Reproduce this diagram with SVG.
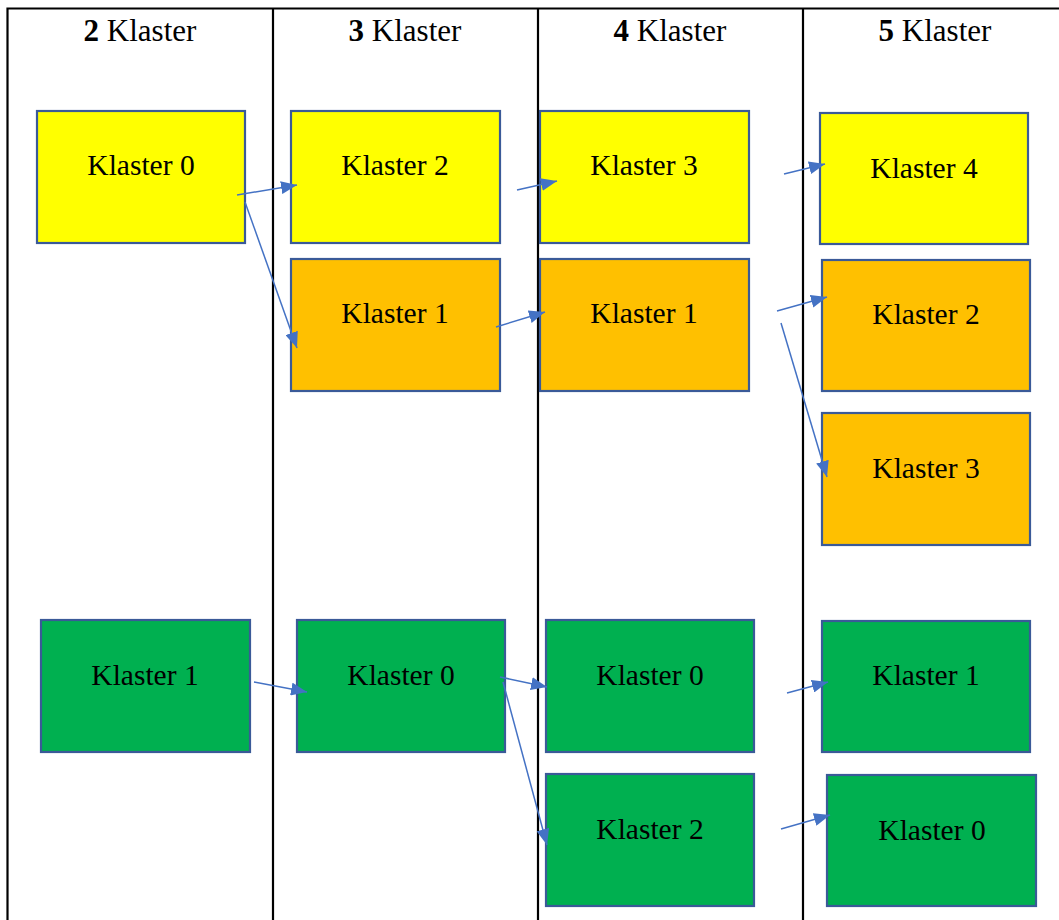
<svg xmlns="http://www.w3.org/2000/svg" width="1059" height="920" viewBox="0 0 1059 920">
<style>
.grid{stroke:#000;stroke-width:2.2;fill:none}
text{font-family:'Liberation Serif','Times New Roman',serif;fill:#000;text-anchor:middle}
.hd{font-size:31px}
.box{stroke:#3A5A98;stroke-width:2.2}
.y{fill:#FFFF00}.o{fill:#FFC000}.g{fill:#00B050}
.lb{font-size:29.5px}
.ar{stroke:#4472C4;stroke-width:1.5;fill:none;marker-end:url(#ah)}
</style>
<defs>
<marker id="ah" viewBox="0 0 16 13" refX="16" refY="6.5" markerWidth="16" markerHeight="13" markerUnits="userSpaceOnUse" orient="auto">
<path d="M0,0 L16,6.5 L0,13 Z" fill="#4472C4"/>
</marker>
</defs>
<rect width="1059" height="920" fill="#fff"/>
<g id="table">
<path class="grid" d="M7.5,920 V8.5 H1059 M273,8.5 V920 M538,8.5 V920 M803,8.5 V920"/>
<text class="hd" x="140" y="41"><tspan font-weight="bold">2</tspan> Klaster</text>
<text class="hd" x="405" y="41"><tspan font-weight="bold">3</tspan> Klaster</text>
<text class="hd" x="670" y="41"><tspan font-weight="bold">4</tspan> Klaster</text>
<text class="hd" x="935" y="41"><tspan font-weight="bold">5</tspan> Klaster</text>
</g>
<g id="c2-k0"><rect class="box y" x="37" y="111" width="208" height="132"/><text class="lb" x="141" y="175">Klaster 0</text></g>
<g id="c2-k1"><rect class="box g" x="41" y="620" width="209" height="132"/><text class="lb" x="145" y="685">Klaster 1</text></g>
<g id="c3-k2"><rect class="box y" x="291" y="111" width="209" height="132"/><text class="lb" x="395" y="175">Klaster 2</text></g>
<g id="c3-k1"><rect class="box o" x="291" y="259" width="209" height="132"/><text class="lb" x="395" y="323">Klaster 1</text></g>
<g id="c3-k0"><rect class="box g" x="297" y="620" width="208" height="132"/><text class="lb" x="401" y="685">Klaster 0</text></g>
<g id="c4-k3"><rect class="box y" x="540" y="111" width="209" height="132"/><text class="lb" x="644" y="175">Klaster 3</text></g>
<g id="c4-k1"><rect class="box o" x="540" y="259" width="209" height="132"/><text class="lb" x="644" y="323">Klaster 1</text></g>
<g id="c4-k0"><rect class="box g" x="546" y="620" width="208" height="132"/><text class="lb" x="650" y="685">Klaster 0</text></g>
<g id="c4-k2"><rect class="box g" x="546" y="774" width="208" height="132"/><text class="lb" x="650" y="839">Klaster 2</text></g>
<g id="c5-k4"><rect class="box y" x="820" y="113" width="208" height="131"/><text class="lb" x="924" y="178">Klaster 4</text></g>
<g id="c5-k2"><rect class="box o" x="822" y="260" width="208" height="131"/><text class="lb" x="926" y="324">Klaster 2</text></g>
<g id="c5-k3"><rect class="box o" x="822" y="413" width="208" height="132"/><text class="lb" x="926" y="478">Klaster 3</text></g>
<g id="c5-k1"><rect class="box g" x="822" y="621" width="208" height="131"/><text class="lb" x="926" y="685">Klaster 1</text></g>
<g id="c5-k0"><rect class="box g" x="827" y="775" width="209" height="131"/><text class="lb" x="932" y="840">Klaster 0</text></g>
<g id="connectors">
<line class="ar" x1="237" y1="195" x2="297" y2="185"/>
<line class="ar" x1="245" y1="202" x2="297" y2="348"/>
<line class="ar" x1="517" y1="190" x2="557" y2="181"/>
<line class="ar" x1="784" y1="174" x2="825" y2="164"/>
<line class="ar" x1="496" y1="327" x2="545" y2="312"/>
<line class="ar" x1="777" y1="311" x2="827" y2="297"/>
<line class="ar" x1="781" y1="323" x2="827" y2="477"/>
<line class="ar" x1="254" y1="682" x2="307" y2="692"/>
<line class="ar" x1="500" y1="677" x2="547" y2="687"/>
<line class="ar" x1="503" y1="682" x2="547" y2="845"/>
<line class="ar" x1="787" y1="693" x2="828" y2="682"/>
<line class="ar" x1="781" y1="829" x2="830" y2="815"/>
</g>
</svg>
